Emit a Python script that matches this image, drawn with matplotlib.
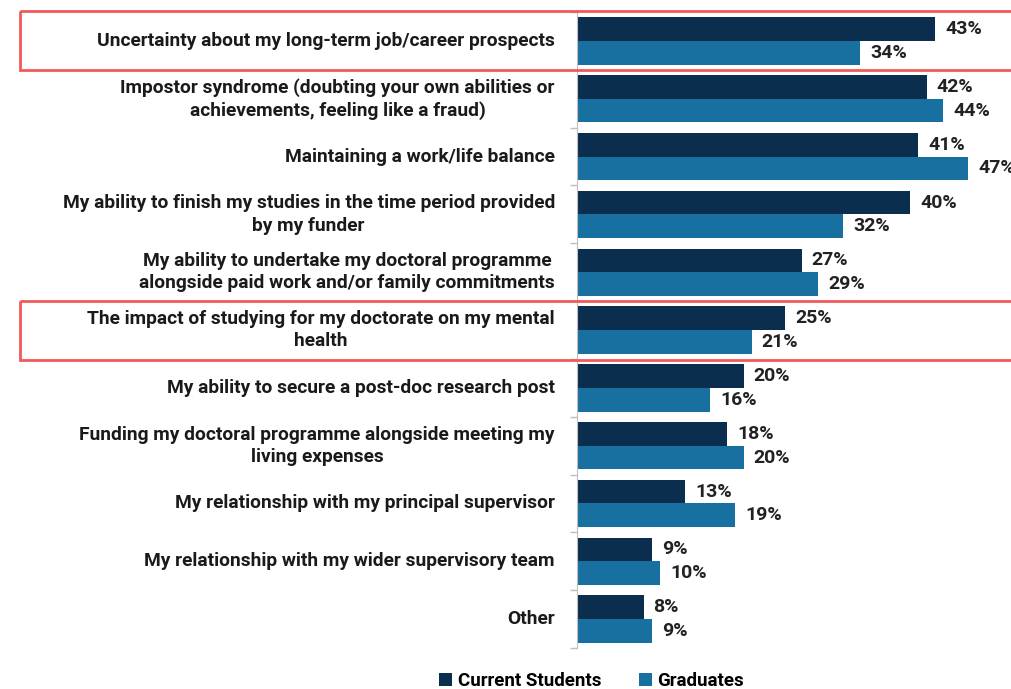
import matplotlib
matplotlib.use('Agg')
import matplotlib.pyplot as plt
from matplotlib.patches import Rectangle
from matplotlib.transforms import blended_transform_factory
import numpy as np

# Survey data: share of respondents concerned about each issue
categories = [
    'Uncertainty about my long-term job/career prospects',
    'Impostor syndrome (doubting your own abilities or\nachievements, feeling like a fraud)',
    'Maintaining a work/life balance',
    'My ability to finish my studies in the time period provided\nby my funder',
    'My ability to undertake my doctoral programme\nalongside paid work and/or family commitments',
    'The impact of studying for my doctorate on my mental\nhealth',
    'My ability to secure a post-doc research post',
    'Funding my doctoral programme alongside meeting my\nliving expenses',
    'My relationship with my principal supervisor',
    'My relationship with my wider supervisory team',
    'Other',
]
current_students = [43, 42, 41, 40, 27, 25, 20, 18, 13, 9, 8]
graduates = [34, 44, 47, 32, 29, 21, 16, 20, 19, 10, 9]
highlighted = [0, 5]

dark = '#0c2e4e'
light = '#17709f'
box_red = '#f05a5a'

font = ['Roboto', 'DejaVu Sans']

fig = plt.figure(figsize=(10.11, 6.89), dpi=100)
ax = fig.add_axes([577 / 1011, 0.0595, 433 / 1011, 0.923])

y = np.arange(len(categories))
h = 0.41
ax.barh(y - h / 2, current_students, height=h, color=dark, label='Current Students')
ax.barh(y + h / 2, graduates, height=h, color=light, label='Graduates')

for yi, v in zip(y, current_students):
    ax.text(v + 1.2, yi - h / 2, f'{v}%', va='center', ha='left', fontsize=14,
            fontweight='bold', family=font, color='#222222', clip_on=False)
for yi, v in zip(y, graduates):
    ax.text(v + 1.2, yi + h / 2, f'{v}%', va='center', ha='left', fontsize=14,
            fontweight='bold', family=font, color='#222222', clip_on=False)

ax.set_xlim(0, 52)
ax.set_ylim(len(categories) - 0.5, -0.5)
ax.set_xticks([])
ax.set_yticks(np.arange(len(categories) + 1) - 0.5)
ax.set_yticklabels([])
ax.tick_params(axis='y', length=5, color='#bfbfbf', width=1)
for s in ['top', 'right', 'bottom']:
    ax.spines[s].set_visible(False)
ax.spines['left'].set_color('#bfbfbf')

# category labels, right-aligned left of the axis
for yi, cat in zip(y, categories):
    ax.text(-0.051, yi, cat, transform=blended_transform_factory(ax.transAxes, ax.transData),
            ha='right', va='center', multialignment='center', fontsize=13.8,
            fontweight='bold', family=font, color='#1a1a1a', linespacing=1.3)

# red outline round the highlighted rows
trans = blended_transform_factory(fig.transFigure, ax.transData)
for i in highlighted:
    r = Rectangle((20 / 1011, i - 0.51), 1.0, 1.02, transform=trans, fill=False,
                  edgecolor=box_red, linewidth=2, clip_on=False)
    fig.add_artist(r)

leg = fig.legend(loc='lower center', bbox_to_anchor=(0.585, -0.026), ncol=2, frameon=False,
                 handlelength=0.7, handleheight=0.7, handletextpad=0.3, columnspacing=2.0,
                 prop={'family': font, 'weight': 'bold', 'size': 13.5})

fig.savefig('out.png', dpi=100, facecolor='white')
